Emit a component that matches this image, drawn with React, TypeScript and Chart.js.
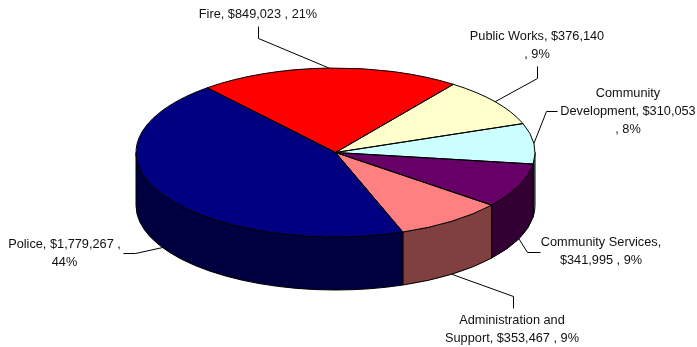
import React, { useEffect, useRef } from "react";
import { Chart, registerables } from "chart.js";

Chart.register(...registerables);

// Budget by department, in the drawing order of the pie (clockwise).
const departments = ["Fire", "Public Works", "Community Development", "Community Services", "Administration and Support", "Police"];
const budgets = [849023, 376140, 310053, 341995, 353467, 1779267];
const topColors = ["#FF0000", "#FFFFCC", "#CCFFFF", "#660066", "#FF8080", "#000080"];
const sideColors = ["#800000", "#808066", "#668080", "#330033", "#804040", "#000040"];
const labelLines = [
  ["Fire, $849,023 , 21%"],
  ["Public Works, $376,140", ", 9%"],
  ["Community", "Development, $310,053", ", 8%"],
  ["Community Services,", "$341,995 , 9%"],
  ["Administration and", "Support, $353,467 , 9%"],
  ["Police, $1,779,267 ,", "44%"],
];

// Layout of the tilted disc on the page.
const disc = { cx: 335.5, cy: 152.5, rx: 199.5, ry: 84.5, depth: 53 };
// Label centre x, first-line centre y, and the leader's path from label to elbow.
const labelLayout = [
  { x: 258, y: 14, leader: [[258, 26], [258, 38]] },
  { x: 537, y: 36, leader: [[537, 66], [537, 78]] },
  { x: 628, y: 93, leader: [[557, 111], [546, 111]] },
  { x: 601, y: 242, leader: [[540, 252], [527, 252]] },
  { x: 512, y: 320, leader: [[513, 308], [513, 296]] },
  { x: 64.5, y: 244, leader: [[123, 253], [135, 253]] },
];

const pie3d = {
  id: "pie3d",
  beforeDatasetsDraw(chart: any) {
    const { ctx } = chart;
    const arcs = chart.getDatasetMeta(0).data;
    const { cx, cy, rx, ry, depth } = disc;
    ctx.save();
    ctx.lineWidth = 1;
    ctx.strokeStyle = "#000";
    // Rim: only the part of each slice facing the viewer (canvas angles 0..PI).
    arcs.forEach((arc: any, i: number) => {
      const a0 = Math.max(arc.startAngle, 0);
      const a1 = Math.min(arc.endAngle, Math.PI);
      if (a1 <= a0) return;
      ctx.beginPath();
      ctx.ellipse(cx, cy, rx, ry, 0, a0, a1);
      ctx.ellipse(cx, cy + depth, rx, ry, 0, a1, a0, true);
      ctx.closePath();
      ctx.fillStyle = sideColors[i];
      ctx.fill();
      ctx.stroke();
    });
    ctx.restore();
    // The top face is the library's own pie, squashed onto the disc.
    const first = arcs[0];
    ctx.save();
    ctx.translate(cx, cy);
    ctx.scale(rx / first.outerRadius, ry / first.outerRadius);
    ctx.translate(-first.x, -first.y);
  },
  afterDatasetsDraw(chart: any) {
    const { ctx } = chart;
    ctx.restore();
    const arcs = chart.getDatasetMeta(0).data;
    const { cx, cy, rx, ry, depth } = disc;
    ctx.save();
    ctx.lineWidth = 1;
    ctx.strokeStyle = "#000";
    // Slice outlines are stroked after the transform is gone, so they stay even.
    arcs.forEach((arc: any) => {
      ctx.beginPath();
      ctx.moveTo(cx, cy);
      ctx.ellipse(cx, cy, rx, ry, 0, arc.startAngle, arc.endAngle);
      ctx.closePath();
      ctx.stroke();
    });
    // Leader lines end on the middle of each slice's visible edge.
    arcs.forEach((arc: any, i: number) => {
      const mid = (arc.startAngle + arc.endAngle) / 2;
      const ex = cx + rx * Math.cos(mid);
      let ey = cy + ry * Math.sin(mid);
      if (Math.sin(mid) > 0.2) ey += depth;
      const pts = labelLayout[i].leader;
      ctx.beginPath();
      ctx.moveTo(pts[0][0] + 0.5, pts[0][1] + 0.5);
      ctx.lineTo(pts[1][0] + 0.5, pts[1][1] + 0.5);
      ctx.lineTo(ex, ey);
      ctx.stroke();
    });
    // Data labels.
    ctx.fillStyle = "#111";
    ctx.font = '12.75px "Liberation Sans"';
    ctx.textAlign = "center";
    ctx.textBaseline = "middle";
    labelLines.forEach((lines, i) => {
      lines.forEach((line, j) => {
        ctx.fillText(line, labelLayout[i].x, labelLayout[i].y + j * 18);
      });
    });
    ctx.restore();
  },
};

export default function App() {
  const ref = useRef<HTMLCanvasElement>(null);
  useEffect(() => {
    const chart = new Chart(ref.current!, {
      type: "pie",
      data: {
        labels: departments,
        datasets: [{ data: budgets, backgroundColor: topColors, borderWidth: 0, clip: false }],
      },
      options: {
        animation: false,
        responsive: false,
        rotation: -40,
        plugins: { legend: { display: false }, tooltip: { enabled: false } },
      },
      plugins: [pie3d],
    } as any);
    return () => chart.destroy();
  }, []);
  return (
    <div style={{ position: "absolute", left: 0, top: 0, width: 697, height: 347, background: "#fff" }}>
      <canvas ref={ref} width={697} height={347} style={{ display: "block" }} />
    </div>
  );
}
